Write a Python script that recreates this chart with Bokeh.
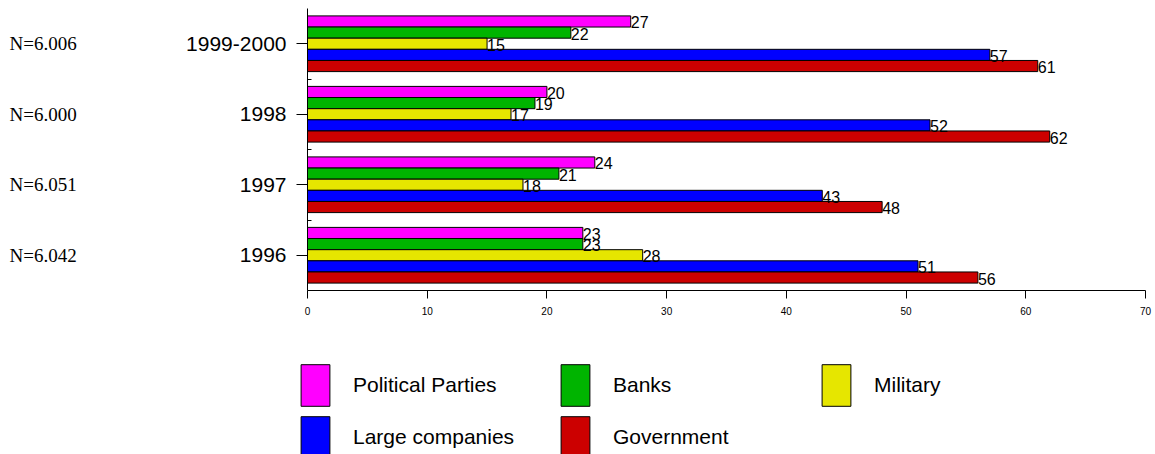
from bokeh.plotting import figure
from bokeh.models import Range1d, FixedTicker, Legend, LegendItem
from bokeh.layouts import column, row
from bokeh.core.properties import value
from bokeh.embed import file_html
from bokeh.resources import INLINE

# ---- data ----
categories = ["1999-2000", "1998", "1997", "1996"]
sample_sizes = ["N=6.006", "N=6.000", "N=6.051", "N=6.042"]
series_names = ["Political Parties", "Banks", "Military", "Large companies", "Government"]
political_parties = [27, 20, 24, 23]
banks = [22, 19, 21, 23]
military = [15, 17, 18, 28]
large_companies = [57, 52, 43, 51]
government = [61, 62, 48, 56]
x_ticks = [0, 10, 20, 30, 40, 50, 60, 70]

series_values = [political_parties, banks, military, large_companies, government]
colors = ["#ff00ff", "#00b400", "#e6e600", "#0000ff", "#cc0000"]

SANS = "Liberation Sans"
SERIF = "Liberation Serif"

n_cat = len(categories)
ypos = [n_cat - 1 - i for i in range(n_cat)]
bar_h = 0.158
yr = Range1d(-0.5, n_cat - 0.5)

TOP_H = 340
LEFT_W = 150

# ---- left strip with sample sizes ----
nfig = figure(width=LEFT_W, height=TOP_H, x_range=Range1d(0, 1), y_range=yr,
              output_backend="svg", toolbar_location=None,
              x_axis_location=None, y_axis_location=None,
              min_border_left=0, min_border_right=0, min_border_top=8, min_border_bottom=50)
nfig.outline_line_color = None
nfig.grid.visible = False
nfig.text(x=[0] * n_cat, y=ypos, text=sample_sizes, text_font=value(SERIF),
          text_font_size="19px", text_baseline="middle", text_align="left",
          text_color="black", x_offset=9)

# ---- main chart ----
p = figure(width=1155 - LEFT_W, height=TOP_H, x_range=Range1d(0, 70), y_range=yr,
           output_backend="svg", toolbar_location=None,
           min_border_left=307 - LEFT_W, min_border_right=10, min_border_top=8,
           min_border_bottom=50)
p.outline_line_color = None
p.xgrid.visible = False
p.ygrid.visible = False

for j, (vals, col) in enumerate(zip(series_values, colors)):
    ys = [y + (2 - j) * bar_h for y in ypos]
    p.hbar(y=ys, left=0, right=vals, height=bar_h, fill_color=col,
           line_color="black", line_width=1)

for j, vals in enumerate(series_values):
    ys = [y + (2 - j) * bar_h for y in ypos]
    p.text(x=vals, y=ys, text=[str(v) for v in vals], text_font=value(SANS),
           text_font_size="16px", text_baseline="middle", text_align="left",
           text_color="black", y_offset=1)

p.yaxis.ticker = FixedTicker(ticks=ypos, minor_ticks=[y + 0.5 for y in ypos[1:]])
p.yaxis.major_label_overrides = {y: c for y, c in zip(ypos, categories)}
p.yaxis.major_tick_out = 11
p.yaxis.major_tick_in = 0
p.yaxis.minor_tick_in = 4
p.yaxis.minor_tick_out = 0
p.yaxis.major_label_standoff = 10
p.yaxis.major_label_text_font = SANS
p.yaxis.major_label_text_font_size = "21px"
p.yaxis.major_label_text_color = "black"
p.yaxis.axis_line_color = "black"

p.xaxis.ticker = FixedTicker(ticks=x_ticks, minor_ticks=[])
p.xaxis.major_tick_out = 8
p.xaxis.major_tick_in = 0
p.xaxis.major_label_standoff = 8
p.xaxis.major_label_text_font = SANS
p.xaxis.major_label_text_font_size = "10px"
p.xaxis.major_label_text_color = "black"
p.xaxis.axis_line_color = "black"

# ---- legend strip ----
LEG_H = 454 - TOP_H
lfig = figure(width=1155, height=LEG_H, x_range=Range1d(0, 1), y_range=Range1d(0, 1),
              output_backend="svg", toolbar_location=None,
              x_axis_location=None, y_axis_location=None,
              min_border_left=0, min_border_right=0, min_border_top=0, min_border_bottom=0)
lfig.outline_line_color = None
lfig.grid.visible = False
# legend-only renderers (placed outside the visible range)
leg_renderers = [lfig.hbar(y=[-5], left=[0], right=[1], height=0.1, fill_color=c,
                           line_color="black", line_width=1) for c in colors]

columns = [[0, 3], [1, 4], [2]]
col_x = [297, 557, 818]
col_y = [-9, -9, 43]
for cols, cx, cy in zip(columns, col_x, col_y):
    items = [LegendItem(label=series_names[k], renderers=[leg_renderers[k]]) for k in cols]
    lg = Legend(items=items, location=(cx, cy), orientation="vertical",
                glyph_width=36, glyph_height=52, label_standoff=20, spacing=0,
                padding=0, margin=0, border_line_alpha=0, background_fill_alpha=0,
                label_text_font=SANS, label_text_font_size="21px", label_text_color="black")
    lfig.add_layout(lg, "center")

layout = column(row(nfig, p), lfig)
open("out.html", "w").write(file_html(layout, INLINE))
